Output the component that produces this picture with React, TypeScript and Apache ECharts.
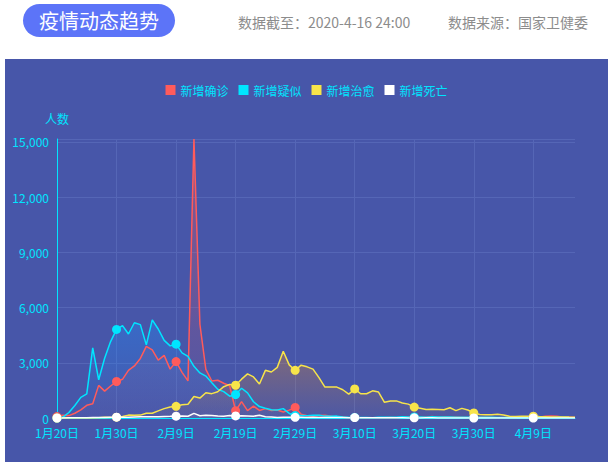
import React, { useEffect, useRef } from 'react';
import * as echarts from 'echarts';

const dates = [
  '1月20日', '1月21日', '1月22日', '1月23日', '1月24日', '1月25日', '1月26日', '1月27日', '1月28日', '1月29日', '1月30日', '1月31日',
  '2月1日', '2月2日', '2月3日', '2月4日', '2月5日', '2月6日', '2月7日', '2月8日', '2月9日', '2月10日',
  '2月11日', '2月12日', '2月13日', '2月14日', '2月15日', '2月16日', '2月17日', '2月18日', '2月19日', '2月20日',
  '2月21日', '2月22日', '2月23日', '2月24日', '2月25日', '2月26日', '2月27日', '2月28日', '2月29日',
  '3月1日', '3月2日', '3月3日', '3月4日', '3月5日', '3月6日', '3月7日', '3月8日', '3月9日', '3月10日',
  '3月11日', '3月12日', '3月13日', '3月14日', '3月15日', '3月16日', '3月17日', '3月18日', '3月19日', '3月20日',
  '3月21日', '3月22日', '3月23日', '3月24日', '3月25日', '3月26日', '3月27日', '3月28日', '3月29日', '3月30日', '3月31日',
  '4月1日', '4月2日', '4月3日', '4月4日', '4月5日', '4月6日', '4月7日', '4月8日', '4月9日', '4月10日',
  '4月11日', '4月12日', '4月13日', '4月14日', '4月15日', '4月16日',
];

// 新增确诊
const confirmed = [
  77, 149, 131, 259, 444, 688, 769, 1771, 1459, 1737, 1982, 2102,
  2590, 2829, 3235, 3887, 3694, 3143, 3399, 2656, 3062, 2478, 2015, 15152, 5090, 2641, 2009, 2048, 1886, 1749,
  394, 889, 397, 648, 409, 508, 406, 433, 327, 427, 573,
  202, 125, 119, 139, 143, 99, 44, 40, 19, 24, 15, 8, 11, 20, 16, 21, 13, 34, 39, 41,
  46, 39, 78, 47, 67, 55, 54, 45, 31, 48, 36,
  35, 31, 19, 30, 39, 32, 62, 63, 42, 46, 99, 108, 89, 46, 46, 26,
];

// 新增疑似
const suspected = [
  0, 50, 300, 680, 1118, 1309, 3806, 2077, 3248, 4148, 4812, 5019,
  4562, 5173, 5072, 3971, 5328, 4833, 4214, 3916, 4008, 3536, 3342, 2807, 2450, 2277, 1918, 1563, 1432, 1185,
  1277, 1614, 1361, 882, 620, 530, 452, 439, 509, 248, 132,
  141, 129, 143, 143, 102, 99, 102, 60, 36, 31, 33, 33, 17, 39, 41, 45, 45, 73, 57, 54,
  49, 38, 65, 59, 54, 54, 43, 43, 35, 21, 42,
  37, 34, 25, 28, 35, 30, 30, 26, 25, 20, 26, 29, 47, 44, 27, 19,
];

// 新增治愈
const cured = [
  0, 0, 0, 6, 3, 11, 2, 9, 43, 21, 47, 85,
  157, 147, 157, 262, 261, 387, 510, 600, 632, 716, 744, 1171, 1081, 1373, 1323, 1425, 1701, 1824,
  1779, 2109, 2393, 2231, 1846, 2589, 2498, 2750, 3622, 2885, 2589,
  2868, 2779, 2652, 2189, 1679, 1681, 1678, 1535, 1297, 1578, 1318, 1318, 1475, 1408, 852, 927, 930, 816, 753, 591,
  527, 459, 473, 460, 446, 554, 403, 524, 437, 277, 190,
  174, 179, 208, 167, 90, 85, 93, 95, 95, 80, 70, 60, 55, 60, 50, 45,
];

// 新增死亡
const deaths = [
  0, 3, 8, 8, 16, 15, 24, 26, 26, 38, 43, 46,
  45, 57, 64, 65, 73, 73, 86, 89, 97, 108, 97, 254, 121, 143, 142, 105, 98, 136,
  114, 118, 109, 97, 150, 71, 52, 29, 44, 47, 35,
  42, 31, 38, 31, 30, 28, 27, 22, 17, 22, 11, 7, 13, 10, 14, 13, 11, 8, 3, 7,
  6, 9, 7, 4, 6, 5, 3, 5, 4, 1, 1,
  6, 4, 4, 3, 1, 2, 0, 2, 1, 3, 0, 0, 0, 0, 0, 1,
];

const seriesNames = ['新增确诊', '新增疑似', '新增治愈', '新增死亡'];
const seriesColors = ['#ff5b5b', '#00e5ff', '#f7e44a', '#ffffff'];
const areaColors = ['255,90,90', '30,144,255', '230,140,40', '255,255,255'];

const labelColor = '#00e5ff';
const font = '"Noto Sans CJK SC", "Microsoft YaHei", sans-serif';

const TrendChart: React.FC = () => {
  const chartRef = useRef<HTMLDivElement>(null);

  useEffect(() => {
    if (!chartRef.current) return;
    const chart = echarts.init(chartRef.current, null, { renderer: 'svg' });

    const values = [confirmed, suspected, cured, deaths];

    const option = {
      animation: false,
      textStyle: { fontFamily: font },
      legend: {
        top: 20,
        left: 'center',
        icon: 'rect',
        itemWidth: 10,
        itemHeight: 10,
        itemGap: 10,
        textStyle: { color: labelColor, fontSize: 12, fontFamily: font },
        data: seriesNames,
      },
      grid: { left: 52, right: 33, top: 80, bottom: 44 },
      xAxis: {
        type: 'category',
        boundaryGap: false,
        data: dates,
        axisLine: { lineStyle: { color: labelColor } },
        axisTick: { show: false },
        axisLabel: { color: labelColor, fontSize: 12, interval: 9, margin: 8 },
        splitLine: { show: true, interval: 9, lineStyle: { color: '#5566b6' } },
      },
      yAxis: {
        type: 'value',
        name: '人数',
        nameGap: 15,
        nameTextStyle: { color: labelColor, fontSize: 12 },
        min: 0,
        max: 'dataMax',
        interval: 3000,
        axisLine: { show: true, lineStyle: { color: labelColor } },
        axisTick: { show: false },
        axisLabel: {
          color: labelColor,
          fontSize: 12,
          formatter: (v: number) => (v % 3000 === 0 ? v.toLocaleString('en-US') : ''),
        },
        splitLine: { lineStyle: { color: '#5566b6' } },
      },
      series: seriesNames.map((name, i) => ({
        name,
        type: 'line',
        data: values[i],
        symbol: 'circle',
        symbolSize: 9,
        itemStyle: { color: seriesColors[i] },
        lineStyle: { width: 1.5, color: seriesColors[i] },
        areaStyle: {
          color: new echarts.graphic.LinearGradient(0, 0, 0, 1, [
            { offset: 0, color: `rgba(${areaColors[i]},${i === 3 ? 0.15 : 0.5})` },
            { offset: 1, color: `rgba(${areaColors[i]},0.05)` },
          ]),
        },
      })),
    };

    chart.setOption(option);
    return () => {
      chart.dispose();
    };
  }, []);

  return (
    <div
      ref={chartRef}
      style={{ position: 'absolute', left: 5, top: 59, width: 603, height: 403, backgroundColor: '#4756a9' }}
    />
  );
};

export default function App() {
  useEffect(() => {
    document.body.style.margin = '0';
  }, []);

  return (
    <div style={{ position: 'relative', width: 608, height: 462, background: '#fff', overflow: 'hidden', fontFamily: font }}>
      <div
        style={{
          position: 'absolute',
          left: 23,
          top: 4,
          width: 152,
          height: 33,
          borderRadius: 17,
          background: '#5c74f8',
          color: '#fff',
          fontSize: 20,
          lineHeight: '33px',
          textAlign: 'center',
        }}
      >
        疫情动态趋势
      </div>
      <div style={{ position: 'absolute', left: 238, top: 12, fontSize: 14, lineHeight: '20px', color: '#8c8c8c' }}>
        数据截至：2020-4-16 24:00
      </div>
      <div style={{ position: 'absolute', left: 448, top: 12, fontSize: 14, lineHeight: '20px', color: '#8c8c8c' }}>
        数据来源：国家卫健委
      </div>
      <TrendChart />
    </div>
  );
}
